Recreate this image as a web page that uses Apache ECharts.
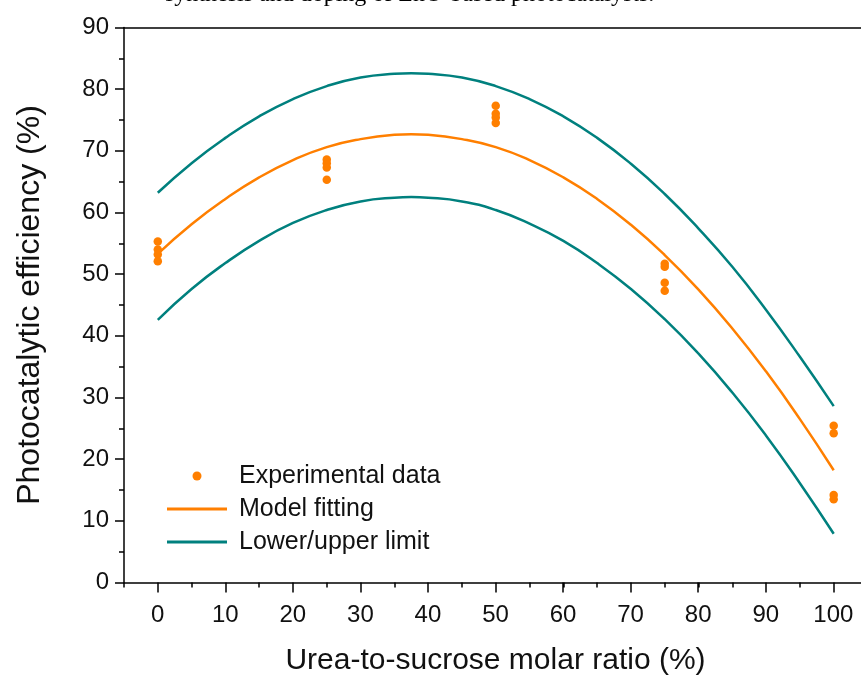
<!DOCTYPE html>
<html>
<head>
<meta charset="utf-8">
<script src="https://cdn.jsdelivr.net/npm/echarts@6/dist/echarts.min.js"></script>
<style>
  html, body { margin: 0; padding: 0; background: #fff; }
  #chart { width: 861px; height: 675px; }
</style>
</head>
<body>
<div id="chart"></div>
<script>
// Urea-to-sucrose molar ratio (%) of each tested batch
const ratios = [0, 25, 50, 75, 100];
// Measured photocatalytic efficiency (%), replicates per ratio
const experimental = [
  [55.3, 54.0, 53.2, 52.1],
  [68.6, 68.0, 67.3, 65.3],
  [77.3, 76.0, 75.4, 74.5],
  [51.7, 51.2, 48.6, 47.3],
  [25.4, 24.2, 14.2, 13.5]
];
// Fitted curve and its confidence band
const curveX = [0, 5, 10, 15, 20, 25, 30, 35, 37.5, 40, 45, 50, 55, 60, 65, 70, 75, 80, 85, 90, 95, 100];
const modelFit = [53.3, 58.1, 62.2, 65.7, 68.5, 70.6, 71.9, 72.6, 72.7, 72.6, 71.9, 70.6, 68.5, 65.7, 62.2, 58.0, 53.1, 47.5, 41.2, 34.2, 26.5, 18.2];
const upperLimit = [63.2, 68.0, 72.1, 75.6, 78.4, 80.5, 81.9, 82.5, 82.6, 82.5, 81.9, 80.5, 78.4, 75.6, 72.1, 67.9, 63.0, 57.4, 51.2, 44.2, 36.6, 28.6];
const lowerLimit = [42.6, 47.6, 51.8, 55.4, 58.3, 60.4, 61.8, 62.4, 62.5, 62.4, 61.8, 60.4, 58.2, 55.4, 51.8, 47.6, 42.7, 37.1, 30.8, 23.8, 16.1, 7.9];
const xTicks = [0, 10, 20, 30, 40, 50, 60, 70, 80, 90, 100];

const ORANGE = '#ff7f00';
const TEAL = '#00807e';
const FONT = 'Liberation Sans, Arial, sans-serif';
const LINE_ICON = 'path://M0,0h60v3h-60z';

const scatterData = [];
ratios.forEach((r, i) => experimental[i].forEach(v => scatterData.push([r, v])));
const pair = ys => curveX.map((x, i) => [x, ys[i]]);

const chart = echarts.init(document.getElementById('chart'));
const gridTop = 27.5, gridBottom = 92.5;

chart.setOption({
  animation: false,
  backgroundColor: '#fff',
  graphic: [{
    type: 'text',
    left: 165,
    top: -17,
    style: {
      text: 'synthesis and doping of ZnO-based photocatalysts.',
      font: '24px "Liberation Serif", "Times New Roman", serif',
      fill: '#000'
    }
  }],
  grid: [
    { left: 124, width: 743.5, top: gridTop, bottom: gridBottom, outerBoundsMode: 'none' },
    { left: 157.7, width: 675.6, top: gridTop, bottom: gridBottom, outerBoundsMode: 'none' }
  ],
  legend: {
    orient: 'vertical',
    left: 167,
    top: 462,
    padding: 0,
    itemWidth: 60,
    itemHeight: 9,
    itemGap: 5,
    textStyle: { fontFamily: FONT, fontSize: 25, color: '#111', lineHeight: 28, padding: [0, 0, 0, 7] },
    data: [
      { name: 'Experimental data' },
      { name: 'Model fitting', icon: LINE_ICON },
      { name: 'Lower/upper limit', icon: LINE_ICON }
    ]
  },
  xAxis: [
    {
      type: 'value', gridIndex: 0, min: -5, max: 105, interval: 5,
      axisLine: { show: true, onZero: false, lineStyle: { color: '#000', width: 1.5 } },
      axisTick: { show: true, length: 5, lineStyle: { color: '#000', width: 1.5 } },
      axisLabel: { show: false },
      splitLine: { show: false }
    },
    {
      type: 'value', gridIndex: 1, min: 0, max: 100, interval: 10,
      name: 'Urea-to-sucrose molar ratio (%)',
      nameLocation: 'middle', nameGap: 63,
      nameTextStyle: { fontFamily: FONT, fontSize: 30, color: '#111' },
      axisLine: { show: false },
      axisTick: { show: true, length: 10, lineStyle: { color: '#000', width: 1.5 } },
      axisLabel: {
        fontFamily: FONT, fontSize: 24, color: '#111', margin: 21,
        formatter: v => xTicks.includes(v) ? String(v) : ''
      },
      splitLine: { show: false }
    },
    {
      type: 'value', gridIndex: 0, position: 'top', min: -5, max: 105,
      axisLine: { show: true, onZero: false, lineStyle: { color: '#000', width: 1.5 } },
      axisTick: { show: false }, axisLabel: { show: false }, splitLine: { show: false }
    }
  ],
  yAxis: [
    {
      type: 'value', gridIndex: 0, min: 0, max: 90, interval: 10,
      name: 'Photocatalytic efficiency (%)',
      nameLocation: 'middle', nameGap: 78,
      nameTextStyle: { fontFamily: FONT, fontSize: 32, color: '#111' },
      axisLine: { show: true, onZero: false, lineStyle: { color: '#000', width: 1.5 } },
      axisTick: { show: true, length: 9, lineStyle: { color: '#000', width: 1.5 } },
      minorTick: { show: true, splitNumber: 2, length: 5, lineStyle: { color: '#000', width: 1.5 } },
      axisLabel: { fontFamily: FONT, fontSize: 24, color: '#111', margin: 15 },
      splitLine: { show: false }
    },
    {
      type: 'value', gridIndex: 1, min: 0, max: 90, show: false
    }
  ],
  series: [
    {
      name: 'Experimental data', type: 'scatter', xAxisIndex: 0, yAxisIndex: 0,
      data: scatterData, symbol: 'circle', symbolSize: 8.5,
      itemStyle: { color: ORANGE, opacity: 1 }, z: 5
    },
    {
      name: 'Model fitting', type: 'line', xAxisIndex: 0, yAxisIndex: 0,
      data: pair(modelFit), smooth: true, showSymbol: false, symbol: 'none',
      lineStyle: { color: ORANGE, width: 2.5 }, itemStyle: { color: ORANGE }
    },
    {
      name: 'Lower/upper limit', type: 'line', xAxisIndex: 0, yAxisIndex: 0,
      data: pair(upperLimit), smooth: true, showSymbol: false, symbol: 'none',
      lineStyle: { color: TEAL, width: 2.5 }, itemStyle: { color: TEAL }
    },
    {
      name: 'Lower/upper limit', type: 'line', xAxisIndex: 0, yAxisIndex: 0,
      data: pair(lowerLimit), smooth: true, showSymbol: false, symbol: 'none',
      lineStyle: { color: TEAL, width: 2.5 }, itemStyle: { color: TEAL }
    }
  ]
});
</script>
</body>
</html>
